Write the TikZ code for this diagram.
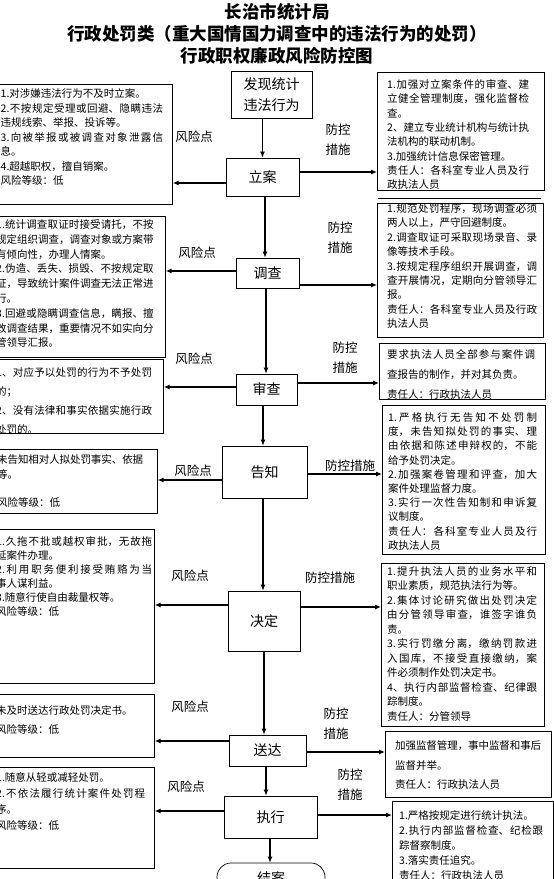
\documentclass[tikz,border=0pt]{standalone}
\usepackage{fontspec}
\setmainfont{Noto Sans CJK SC}
\XeTeXlinebreaklocale "zh"
\XeTeXlinebreakskip=0pt plus 3pt minus 0.6pt
\tolerance=1000
\hbadness=10000
\hfuzz=3pt
\usetikzlibrary{arrows.meta}
\tikzset{
  arr/.style={-{Latex[length=6pt,width=5pt]}, line width=1.1pt},
  stepbox/.style={draw, line width=0.7pt, inner sep=0pt, font=\fontsize{14}{21}\selectfont},
  framebox/.style={draw, line width=0.7pt, anchor=north west, inner sep=0pt},
  txt/.style={anchor=north west, inner sep=0pt, align=justify, font=\fontsize{10.5}{#1}\selectfont},
  txt/.default=14.5,
  risklabel/.style={inner sep=1pt, align=center, font=\fontsize{12.5}{20}\selectfont},
  headline/.style={inner sep=0pt, font=\fontsize{17.5}{20}\selectfont\bfseries}
}
\begin{document}
\begin{tikzpicture}[x=1pt,y=-1pt]
  \useasboundingbox (0,0) rectangle (554,879);
  \clip (0,0) rectangle (554,879);

  \node[headline] (t1) at (277,12) {长治市统计局};
  \node[headline] (t2) at (277,34) {行政处罚类（重大国情国力调查中的违法行为的处罚）};
  \node[headline] (t3) at (277,56) {行政职权廉政风险防控图};

  % main steps
  \node[stepbox, minimum width=81pt, minimum height=47pt, align=left] (fx) at (271.5,94.5) {发现统计\\违法行为};
  \node[stepbox, minimum width=73pt, minimum height=38pt] (la) at (262.5,177) {立案};
  \node[stepbox, minimum width=63pt, minimum height=30pt] (dc) at (267.5,273) {调查};
  \node[stepbox, minimum width=61pt, minimum height=31pt] (sc) at (266.5,389.5) {审查};
  \node[stepbox, minimum width=85pt, minimum height=52pt] (gz) at (264.5,472) {告知};
  \node[stepbox, minimum width=72pt, minimum height=60pt] (jd) at (264,621) {决定};
  \node[stepbox, minimum width=77pt, minimum height=31pt] (sd) at (267.5,750.5) {送达};
  \node[stepbox, minimum width=93pt, minimum height=42pt] (zx) at (270.5,817) {执行};
  \node[stepbox, minimum width=108pt, minimum height=30pt, rounded corners=14pt] (ja) at (271,878) {结案};

  % risk boxes (left)
  \node[framebox, minimum width=182pt, minimum height=120pt] (l1) at (-10,84) {};
  \node[framebox, minimum width=175pt, minimum height=141pt] (l2) at (-10,216) {};
  \node[framebox, minimum width=173pt, minimum height=74pt] (l3) at (-10,359) {};
  \node[framebox, minimum width=167pt, minimum height=64pt] (l4) at (-10,449) {};
  \node[framebox, minimum width=164pt, minimum height=154pt] (l5) at (-10,529) {};
  \node[framebox, minimum width=164pt, minimum height=63pt] (l6) at (-10,694) {};
  \node[framebox, minimum width=164pt, minimum height=101pt] (l7) at (-10,767) {};

  \node[txt, text width=162.5pt] (l1t) at (0.5,88.5) {1.对涉嫌违法行为不及时立案。\\
2.不按规定受理或回避、隐瞒违法\linebreak 违规线索、举报、投诉等。\\
3.向被举报或被调查对象泄露信\linebreak 息。\\
4.超越职权，擅自销案。\\
风险等级：低};
  \node[txt=14.8, text width=157.5pt] (l2t) at (-4,219.5) {1.统计调查取证时接受请托，不按\linebreak 规定组织调查，调查对象或方案带\linebreak 有倾向性，办理人情案。\\
2.伪造、丢失、损毁、不按规定取\linebreak 证，导致统计案件调查无法正常进\linebreak 行。\\
3.回避或隐瞒调查信息，瞒报、擅\linebreak 改调查结果，重要情况不如实向分\linebreak 管领导汇报。};
  \node[txt=19, text width=156pt] (l3t) at (-4,367.5) {1、对应予以处罚的行为不予处罚\linebreak 的；\\
2、没有法律和事实依据实施行政\linebreak 处罚的。};
  \node[txt=15, text width=146pt] (l4t) at (-3,454.5) {未告知相对人拟处罚事实、依据\linebreak 等。\\[13pt]
风险等级：低};
  \node[txt=14, text width=156pt] (l5t) at (-4,536.5) {1.久拖不批或越权审批，无故拖\linebreak 延案件办理。\\
2.利用职务便利接受贿赂为当\linebreak 事人谋利益。\\
3.随意行使自由裁量权等。\\
风险等级：低};
  \node[txt=19, text width=150pt] (l6t) at (-4,705.5) {未及时送达行政处罚决定书。\\
风险等级：低};
  \node[txt=16, text width=149pt] (l7t) at (-4,772.5) {1.随意从轻或减轻处罚。\\
2.不依法履行统计案件处罚程\linebreak 序。\\
风险等级：低};

  % control boxes (right)
  \node[framebox, minimum width=167pt, minimum height=118pt] (r1) at (377,72) {};
  \draw (378,198) -- (541,198);
  \node[framebox, minimum width=166pt, minimum height=134pt] (r2) at (377,203) {};
  \node[framebox, minimum width=166pt, minimum height=56pt] (r3) at (379,343) {};
  \node[framebox, minimum width=163pt, minimum height=149pt] (r4) at (382,405) {};
  \node[framebox, minimum width=163pt, minimum height=163pt] (r5) at (381,563) {};
  \node[framebox, minimum width=166pt, minimum height=66pt] (r6) at (385,731) {};
  \node[framebox, minimum width=161pt, minimum height=100pt] (r7) at (392,801) {};

  \node[txt=14.3, text width=142pt] (r1t) at (387,79.5) {1.加强对立案条件的审查、建\linebreak 立健全管理制度，强化监督检\linebreak 查。\\
2、建立专业统计机构与统计执\linebreak 法机构的联动机制。\\
3.加强统计信息保密管理。\\
责任人：各科室专业人员及行\linebreak 政执法人员};
  \node[txt=14.4, text width=150pt] (r2t) at (387,203.5) {1.规范处罚程序，现场调查必须\linebreak 两人以上，严守回避制度。\\
2.调查取证可采取现场录音、录\linebreak 像等技术手段。\\
3.按规定程序组织开展调查，调\linebreak 查开展情况，定期向分管领导汇\linebreak 报。\\
责任人：各科室专业人员及行政\linebreak 执法人员};
  \node[txt=20, text width=148pt] (r3t) at (387,349.5) {要求执法人员全部参与案件调\linebreak 查报告的制作，并对其负责。\\
责任人：行政执法人员};
  \node[txt=14.2, text width=149pt] (r4t) at (388,412.5) {1.严格执行无告知不处罚制\linebreak 度，未告知拟处罚的事实、理\linebreak 由依据和陈述申辩权的，不能\linebreak 给予处罚决定。\\
2.加强案卷管理和评查，加大\linebreak 案件处理监督力度。\\
3.实行一次性告知制和申诉复\linebreak 议制度。\\
责任人：各科室专业人员及行\linebreak 政执法人员};
  \node[txt=14.5, text width=150pt] (r5t) at (387,566) {1.提升执法人员的业务水平和\linebreak 职业素质，规范执法行为等。\\
2.集体讨论研究做出处罚决定\linebreak 由分管领导审查，谁签字谁负\linebreak 责。\\
3.实行罚缴分离，缴纳罚款进\linebreak 入国库，不接受直接缴纳，案\linebreak 件必须制作处罚决定书。\\
4、执行内部监督检查、纪律跟\linebreak 踪制度。\\
责任人：分管领导};
  \node[txt=19.5, text width=146pt] (r6t) at (395,740.5) {加强监督管理，事中监督和事后\linebreak 监督并举。\\
责任人：行政执法人员};
  \node[txt=15, text width=144pt] (r7t) at (399,810.5) {1.严格按规定进行统计执法。\\
2.执行内部监督检查、纪检跟\linebreak 踪督察制度。\\
3.落实责任追究。\\
责任人：行政执法人员};

  % labels
  \node[risklabel] (k1) at (194,137) {风险点};
  \node[risklabel] (k2) at (197,253) {风险点};
  \node[risklabel] (k3) at (194,359) {风险点};
  \node[risklabel] (k4) at (193,471) {风险点};
  \node[risklabel] (k5) at (190,576) {风险点};
  \node[risklabel] (k6) at (190,707) {风险点};
  \node[risklabel] (k7) at (186,787) {风险点};
  \node[risklabel] (c1) at (338,140) {防控\\措施};
  \node[risklabel] (c2) at (340,238) {防控\\措施};
  \node[risklabel] (c3) at (345,357.5) {防控\\措施};
  \node[risklabel] (c4) at (350,466) {防控措施};
  \node[risklabel] (c5) at (330,578) {防控措施};
  \node[risklabel] (c6) at (336,724) {防控\\措施};
  \node[risklabel] (c7) at (350,785) {防控\\措施};

  % flow
  \draw[arr] (la.north |- fx.south) -- (la.north);
  \draw[arr] (la.south -| 265,0) -- (dc.north -| 265,0);
  \draw[arr] (dc.south -| 266,0) -- (sc.north -| 266,0);
  \draw[arr] (sc.south -| 263,0) -- (gz.north -| 263,0);
  \draw[arr] (gz.south -| 263,0) -- (jd.north -| 263,0);
  \draw[arr] (jd.south -| 264,0) -- (sd.north -| 264,0);
  \draw[arr] (sd.south -| 266,0) -- (zx.north -| 266,0);
  \draw[arr] (zx.south -| 270,0) -- (ja.north -| 270,0);

  % risk side
  \draw[arr] ([yshift=-6pt]la.west) -- ([yshift=-6pt]la.west -| l1.east);
  \draw[arr] ([yshift=2pt]dc.west) -- ([yshift=2pt]dc.west -| l2.east);
  \draw[arr] ([yshift=2.5pt]sc.west) -- ([yshift=2.5pt]sc.west -| l3.east);
  \draw[arr] ([yshift=-8pt]gz.west) -- ([yshift=-8pt]gz.west -| l4.east);
  \draw[arr] ([yshift=16pt]jd.west) -- ([yshift=16pt]jd.west -| l5.east);
  \draw[arr] ([yshift=9.5pt]sd.west) -- ([yshift=9.5pt]sd.west -| l6.east);
  \draw[arr] ([yshift=6pt]zx.west) -- ([yshift=6pt]zx.west -| l7.east);

  % control side
  \draw[arr] ([yshift=5pt]la.east) -- ([yshift=5pt]la.east -| r1.west);
  \draw[arr] ([yshift=-12pt]dc.east) -- ([yshift=-12pt]dc.east -| r2.west);
  \draw[arr] ([yshift=6.5pt]sc.east) -- ([yshift=6.5pt]sc.east -| r3.west);
  \draw[arr] ([yshift=-2pt]gz.east) -- ([yshift=-2pt]gz.east -| r4.west);
  \draw[arr] ([yshift=14pt]jd.east) -- ([yshift=14pt]jd.east -| r5.west);
  \draw[arr] ([yshift=-1.5pt]sd.east) -- ([yshift=-1.5pt]sd.east -| r6.west);
  \draw[arr] ([yshift=2pt]zx.east) -- ([yshift=2pt]zx.east -| r7.west);
\end{tikzpicture}
\end{document}
